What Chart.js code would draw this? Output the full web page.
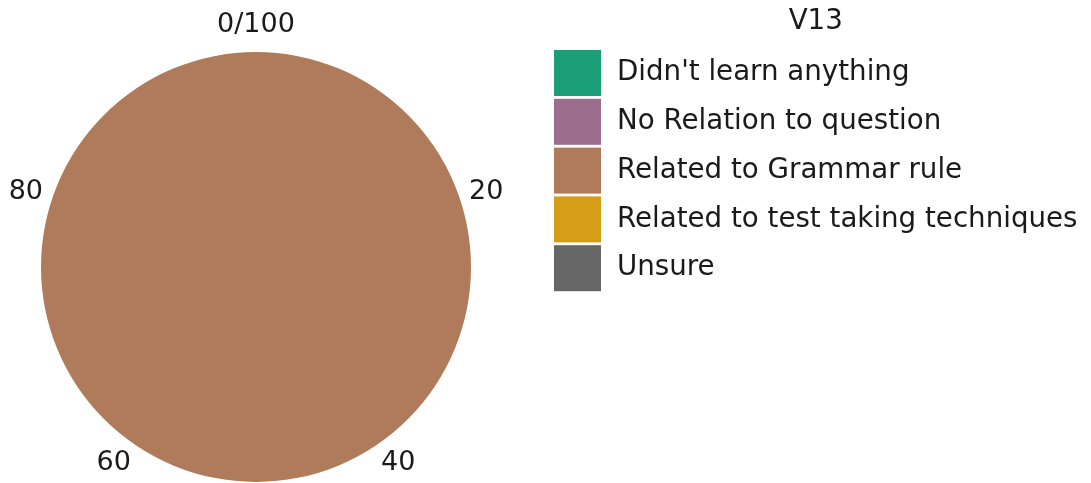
<!DOCTYPE html>
<html>
<head>
<meta charset="utf-8">
<script src="https://cdn.jsdelivr.net/npm/chart.js@4/dist/chart.umd.min.js"></script>
<style>
  html, body { margin: 0; padding: 0; background: #fff; }
  #wrap { width: 1091px; height: 483px; }
</style>
</head>
<body>
<div id="wrap"><canvas id="pie" width="1091" height="483"></canvas></div>
<script>
// V13 responses (percent of answers)
const categories = ['Didn\'t learn anything', 'No Relation to question', 'Related to Grammar rule', 'Related to test taking techniques', 'Unsure'];
const shares = [0, 0, 100, 0, 0];
const colors = ['#1b9e77', '#9c6d8c', '#af7b5b', '#d69e16', '#666666'];
const ringTicks = [0, 20, 40, 60, 80];
const legendTitle = 'V13';

const FONT = '"DejaVu Sans", sans-serif';

// percentage ticks around the rim plus the boxed legend on the right
const rimAndLegend = {
    id: 'rimAndLegend',
    afterDraw(chart) {
        const ctx = chart.ctx;
        const arc = chart.getDatasetMeta(0).data[0];
        const cx = arc.x, cy = arc.y, r = arc.outerRadius + 27;
        ctx.save();
        ctx.fillStyle = '#1a1a1a';
        ctx.font = '27px ' + FONT;
        ctx.textAlign = 'center';
        ctx.textBaseline = 'middle';
        ringTicks.forEach(t => {
            const a = t / 100 * Math.PI * 2 - Math.PI / 2;
            const label = t === 0 ? '0/100' : String(t);
            ctx.fillText(label, cx + Math.cos(a) * r, cy + Math.sin(a) * r);
        });

        // legend
        const boxX = 554, boxW = 47, boxH = 46, top = 50, step = 48.8;
        ctx.font = '27.7px ' + FONT;
        ctx.textAlign = 'left';
        let maxW = 0;
        categories.forEach((c, i) => {
            const y = top + i * step;
            ctx.fillStyle = colors[i];
            ctx.fillRect(boxX, y, boxW, boxH);
            ctx.fillStyle = '#1a1a1a';
            ctx.fillText(c, boxX + 63, y + boxH / 2);
            maxW = Math.max(maxW, ctx.measureText(c).width);
        });
        ctx.textAlign = 'center';
        ctx.fillText(legendTitle, (boxX + boxX + 63 + maxW) / 2, 22);
        ctx.restore();
    }
};

new Chart(document.getElementById('pie').getContext('2d'), {
    type: 'pie',
    data: {
        labels: categories,
        datasets: [{
            data: shares,
            backgroundColor: colors,
            borderWidth: 0
        }]
    },
    options: {
        responsive: false,
        animation: false,
        layout: { padding: { left: 41, right: 620, top: 52, bottom: 1 } },
        plugins: {
            legend: { display: false },
            tooltip: { enabled: false }
        }
    },
    plugins: [rimAndLegend]
});
</script>
</body>
</html>
